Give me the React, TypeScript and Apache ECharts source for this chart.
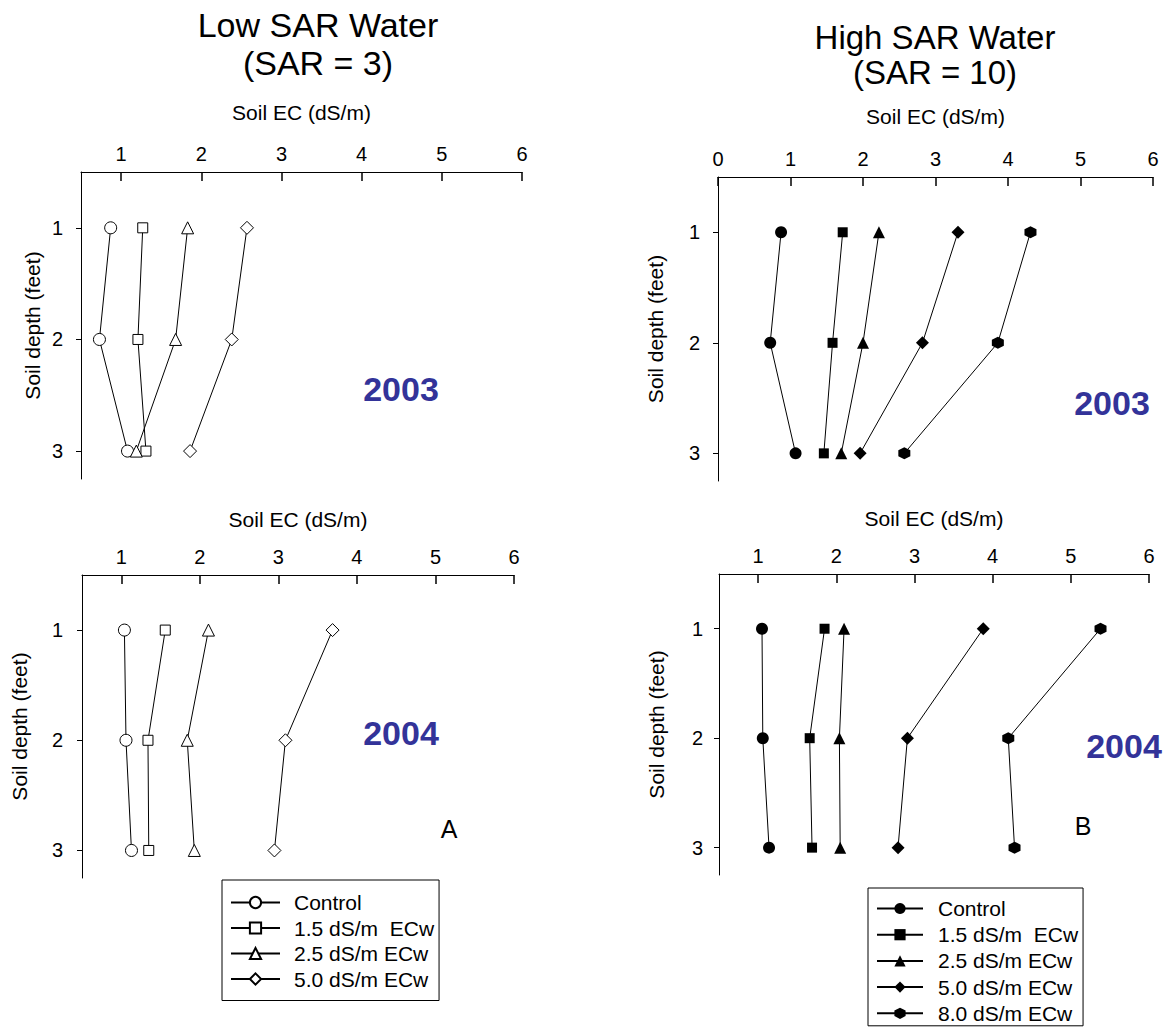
import React, { useEffect, useRef } from "react";
import * as echarts from "echarts";

const FONT = '"Liberation Sans", Arial, Helvetica, sans-serif';

// ---- data ----
const depths = [1, 2, 3];
const depthTicks = [1, 2, 3];
const ecTicksLow = [1, 2, 3, 4, 5, 6];
const ecTicksHigh2003 = [0, 1, 2, 3, 4, 5, 6];
const ecTicksHigh2004 = [1, 2, 3, 4, 5, 6];

const lowNames = ["Control", "1.5 dS/m  ECw", "2.5 dS/m ECw", "5.0 dS/m ECw"];
const highNames = ["Control", "1.5 dS/m  ECw", "2.5 dS/m ECw", "5.0 dS/m ECw", "8.0 dS/m ECw"];

// Low SAR, 2003
const low2003Control = [0.87, 0.73, 1.08];
const low2003Ec15 = [1.27, 1.21, 1.31];
const low2003Ec25 = [1.83, 1.68, 1.19];
const low2003Ec50 = [2.57, 2.38, 1.86];
// High SAR, 2003
const high2003Control = [0.87, 0.72, 1.07];
const high2003Ec15 = [1.72, 1.58, 1.46];
const high2003Ec25 = [2.22, 2.0, 1.7];
const high2003Ec50 = [3.31, 2.82, 1.96];
const high2003Ec80 = [4.31, 3.86, 2.57];
// Low SAR, 2004
const low2004Control = [1.04, 1.06, 1.13];
const low2004Ec15 = [1.56, 1.34, 1.35];
const low2004Ec25 = [2.11, 1.84, 1.93];
const low2004Ec50 = [3.69, 3.09, 2.95];
// High SAR, 2004
const high2004Control = [1.05, 1.06, 1.14];
const high2004Ec15 = [1.85, 1.66, 1.69];
const high2004Ec25 = [2.1, 2.04, 2.05];
const high2004Ec50 = [3.88, 2.91, 2.79];
const high2004Ec80 = [5.38, 4.2, 4.28];

const HEX = "path://M5 0 L10 2.9 L10 8.7 L5 11.6 L0 8.7 L0 2.9 Z";

const lowSymbols = [
  { s: "circle", size: 12 },
  { s: "rect", size: 10 },
  { s: "triangle", size: 12 },
  { s: "diamond", size: 13 },
];
const highSymbols = [
  { s: "circle", size: 12 },
  { s: "rect", size: 10 },
  { s: "triangle", size: 12 },
  { s: "diamond", size: 13 },
  { s: HEX, size: 12 },
];

function mkSeries(name: string, vals: number[], sym: { s: string; size: number }, filled: boolean, idx: number) {
  return {
    type: "line",
    name,
    xAxisIndex: idx,
    yAxisIndex: idx,
    data: depths.map((d, i) => [vals[i], d]),
    symbol: sym.s,
    symbolSize: sym.size,
    showSymbol: true,
    lineStyle: { color: "#000", width: 1 },
    itemStyle: filled
      ? { color: "#000", borderColor: "#000", borderWidth: 0 }
      : { color: "#fff", borderColor: "#000", borderWidth: 1 },
    emphasis: { disabled: true },
    z: 3,
  };
}

function xAxisFor(idx: number, min: number, ticks: number[], nameGap: number) {
  return {
    type: "value",
    gridIndex: idx,
    position: "top",
    min,
    max: 6,
    name: "Soil EC (dS/m)",
    nameLocation: "middle",
    nameGap,
    nameTextStyle: { fontSize: 21, color: "#000", fontFamily: FONT },
    axisLine: { show: true, onZero: false, lineStyle: { color: "#000", width: 1 } },
    axisTick: { show: true, inside: true, length: 9, customValues: ticks, lineStyle: { color: "#000", width: 1.5 } },
    axisLabel: { show: true, customValues: ticks, fontSize: 20, color: "#000", fontFamily: FONT, margin: 8 },
    splitLine: { show: false },
  };
}

function yAxisFor(idx: number, nameGap: number, labelMargin: number) {
  return {
    type: "value",
    gridIndex: idx,
    inverse: true,
    min: 0.5,
    max: 3.25,
    name: "Soil depth (feet)",
    nameLocation: "middle",
    nameGap,
    nameTextStyle: { fontSize: 21, color: "#000", fontFamily: FONT },
    axisLine: { show: true, onZero: false, lineStyle: { color: "#000", width: 1 } },
    axisTick: { show: true, inside: false, length: 5, customValues: depthTicks, lineStyle: { color: "#000", width: 1 } },
    axisLabel: { show: true, customValues: depthTicks, fontSize: 20, color: "#000", fontFamily: FONT, margin: labelMargin },
    splitLine: { show: false },
  };
}

function txt(text: string, x: number, y: number, fontSize: number, opts: any = {}) {
  return {
    type: "text",
    x,
    y,
    silent: true,
    style: {
      text,
      fontSize,
      fontFamily: FONT,
      fill: opts.fill || "#000",
      fontWeight: opts.bold ? "bold" : "normal",
      align: "center",
      verticalAlign: "middle",
    },
  };
}

export default function App() {
  const ref = useRef<HTMLDivElement>(null);
  useEffect(() => {
    document.body.style.margin = "0";
    if (!ref.current) return;
    const chart = echarts.init(ref.current, undefined, { renderer: "svg" });

    const highName = (n: string) => n + " ";

    const series: any[] = [];
    const low2003 = [low2003Control, low2003Ec15, low2003Ec25, low2003Ec50];
    const high2003 = [high2003Control, high2003Ec15, high2003Ec25, high2003Ec50, high2003Ec80];
    const low2004 = [low2004Control, low2004Ec15, low2004Ec25, low2004Ec50];
    const high2004 = [high2004Control, high2004Ec15, high2004Ec25, high2004Ec50, high2004Ec80];
    low2003.forEach((v, i) => series.push(mkSeries(lowNames[i], v, lowSymbols[i], false, 0)));
    high2003.forEach((v, i) => series.push(mkSeries(highName(highNames[i]), v, highSymbols[i], true, 1)));
    low2004.forEach((v, i) => series.push(mkSeries(lowNames[i], v, lowSymbols[i], false, 2)));
    high2004.forEach((v, i) => series.push(mkSeries(highName(highNames[i]), v, highSymbols[i], true, 3)));

    const legendBase = {
      orient: "vertical",
      selectedMode: false,
      borderColor: "#000",
      borderWidth: 1,
      itemHeight: 14,
      formatter: (n: string) => n.replace(/ $/, ""),
      backgroundColor: "#fff",
    };

    const option: any = {
      animation: false,
      textStyle: { fontFamily: FONT },
      grid: [
        { left: 81, top: 172, width: 441, height: 307 },
        { left: 718, top: 177, width: 435, height: 304 },
        { left: 82, top: 575, width: 432, height: 303 },
        { left: 719, top: 574, width: 430, height: 301 },
      ],
      xAxis: [
        xAxisFor(0, 0.5, ecTicksLow, 49),
        xAxisFor(1, 0, ecTicksHigh2003, 50),
        xAxisFor(2, 0.5, ecTicksLow, 45),
        xAxisFor(3, 0.5, ecTicksHigh2004, 45),
      ],
      yAxis: [yAxisFor(0, 38, 18), yAxisFor(1, 52, 18), yAxisFor(2, 52, 19), yAxisFor(3, 52, 16)],
      legend: [
        {
          ...legendBase,
          left: 222,
          top: 880,
          padding: [12, 5, 11, 8],
          itemGap: 4.5,
          itemWidth: 49,
          data: lowNames,
          textStyle: { fontSize: 21, lineHeight: 21, color: "#000", fontFamily: FONT, padding: [0, 0, 0, 9] },
        },
        {
          ...legendBase,
          left: 868,
          top: 888,
          padding: [10, 5, 2, 8],
          itemGap: 5.2,
          itemWidth: 46,
          data: highNames.map(highName),
          textStyle: { fontSize: 21, lineHeight: 21, color: "#000", fontFamily: FONT, padding: [0, 0, 0, 10] },
        },
      ],
      graphic: [
        txt("Low SAR Water", 318, 25, 34),
        txt("(SAR = 3)", 318, 63, 34),
        txt("High SAR Water", 935, 37, 33),
        txt("(SAR = 10)", 935, 72, 33),
        txt("2003", 401, 389, 34, { bold: true, fill: "#333399" }),
        txt("2003", 1112, 403, 34, { bold: true, fill: "#333399" }),
        txt("2004", 401, 733, 34, { bold: true, fill: "#333399" }),
        txt("2004", 1124, 746, 34, { bold: true, fill: "#333399" }),
        txt("A", 449, 829, 25),
        txt("B", 1083, 826, 25),
      ],
      series,
    };
    chart.setOption(option);
    return () => chart.dispose();
  }, []);
  return <div ref={ref} style={{ position: "absolute", left: 0, top: 0, width: 1170, height: 1031 }} />;
}
